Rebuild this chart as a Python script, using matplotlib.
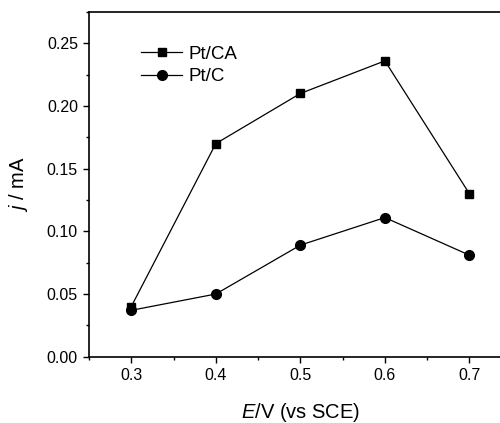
import matplotlib
matplotlib.use("Agg")
import matplotlib.pyplot as plt
from matplotlib.ticker import MultipleLocator

plt.rcParams['font.family'] = ['Liberation Sans', 'DejaVu Sans']
plt.rcParams['mathtext.fontset'] = 'custom'
plt.rcParams['mathtext.rm'] = 'Liberation Sans'
plt.rcParams['mathtext.it'] = 'Liberation Sans:italic'

potential = [0.3, 0.4, 0.5, 0.6, 0.7]
pt_ca = [0.040, 0.170, 0.210, 0.236, 0.130]
pt_c = [0.037, 0.050, 0.089, 0.111, 0.081]

fig = plt.figure(figsize=(5.0, 4.23), dpi=100)
W, H = 500, 423
left, right, top, bottom = 89, 511.7, 12, 356.7
ax = fig.add_axes([left / W, 1 - bottom / H, (right - left) / W, (bottom - top) / H])

ax.plot(potential, pt_ca, color='black', lw=0.9, marker='s', ms=6, label='Pt/CA')
ax.plot(potential, pt_c, color='black', lw=0.9, marker='o', ms=7, label='Pt/C')

ax.set_xlim(0.25, 0.75)
ax.set_ylim(0.0, 0.275)
ax.xaxis.set_minor_locator(MultipleLocator(0.05))
ax.yaxis.set_minor_locator(MultipleLocator(0.025))
ax.set_xticks(potential)
ax.set_xticklabels(['0.3', '0.4', '0.5', '0.6', '0.7'])
ax.set_yticks([0, 0.05, 0.10, 0.15, 0.20, 0.25])
ax.set_yticklabels(['0.00', '0.05', '0.10', '0.15', '0.20', '0.25'])
ax.tick_params(which='major', direction='out', length=4, width=1, labelsize=11.5, pad=4)
ax.tick_params(which='minor', direction='out', length=2.5, width=1)
for s in ax.spines.values():
    s.set_linewidth(1.2)

ax.set_xlabel('$E$/V (vs SCE)', fontsize=14.5, labelpad=13)
ax.set_ylabel('$j$ / mA', fontsize=14.5, labelpad=12)

ax.legend(loc='upper left', bbox_to_anchor=(0.101, 0.93), frameon=False, fontsize=13.5,
          handlelength=2.2, handletextpad=0.32, labelspacing=0.3, borderpad=0)

fig.savefig('out.png', dpi=100)
